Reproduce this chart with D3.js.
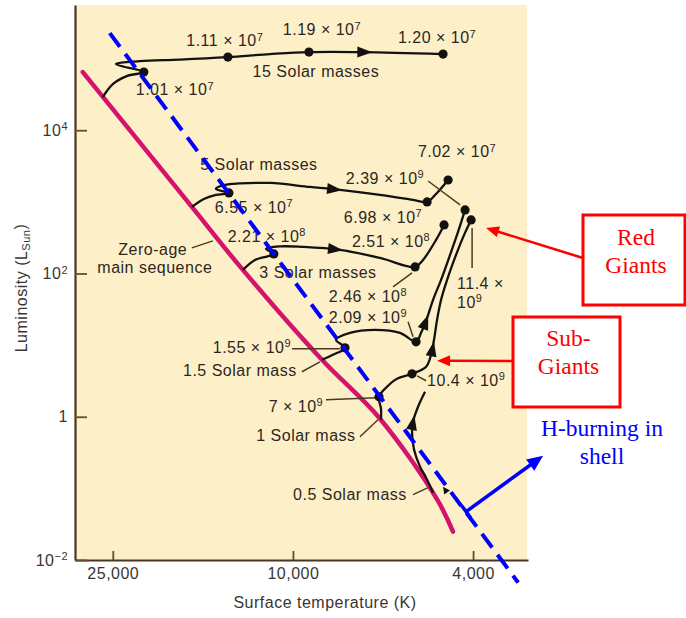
<!DOCTYPE html>
<html>
<head>
<meta charset="utf-8">
<script src="https://cdn.jsdelivr.net/npm/d3@7"></script>
<style>
  html, body { margin: 0; padding: 0; background: #ffffff; }
  svg { display: block; }
</style>
</head>
<body>
<svg id="chart" width="686" height="618"></svg>
<script>
// ---------- axis ticks ----------
const xTicks = [25000, 10000, 4000];
const yTicks = [1e-2, 1, 1e2, 1e4];
const yTickBase = ["10", "1", "10", "10"];
const yTickExp = ["\u22122", "", "2", "4"];

// ---------- zero-age main sequence (T in K, L in solar units) ----------
const zamsT = [29120, 16720, 12900, 8628, 6422, 4800, 4430];
const zamsL = [64900, 849, 112.2, 6.24, 0.938, 0.0696, 0.0249];

// ---------- post-main-sequence tracks ----------
const track15T = [26310, 25000, 23280, 21350, 24620, 21790, 17770, 13920, 11240, 9218, 7001, 4660];
const track15L = [29040, 44060, 57020, 64860, 83750, 92260, 96830, 104900, 115600, 123300, 123300, 115600];
const track15Dots = [3, 7, 9, 11];

const track5T = [16720, 15730, 14800, 13850, 14800, 14140, 13100, 11240, 9171, 7873, 6422, 5428, 5054, 4829, 4542];
const track5L = [849, 1097, 1247, 1331, 1514, 1721, 1806, 1835, 1614, 1466, 1247, 1063, 997, 1288, 2020];
const track5Dots = [3, 12, 14];

const track3T = [12900, 12130, 11020, 11470, 10680, 9504, 7873, 6422, 5373, 5159, 4829, 4636];
const track3L = [112.2, 154.7, 187.6, 220.3, 238.8, 234.9, 213.4, 165.1, 123.6, 154.7, 294.1, 476.3];
const track3Dots = [2, 8, 11];

const track15sT = [8628, 8157, 7674, 8034, 7482, 6587, 5800, 5346, 5212, 5054, 4903, 4707, 4497, 4318, 4166];
const track15sL = [6.24, 7.32, 9.17, 11.86, 14.84, 16.35, 14.84, 11.12, 14.84, 24.03, 42.85, 81.43, 181.7, 380.2, 770.9];
const track15sDots = [2, 7, 14];

const track1T = [6390, 6390, 6455, 6197, 5890, 5456, 5080, 4953, 4879, 4804, 4707, 4565, 4362, 4187, 4041];
const track1L = [0.908, 1.293, 1.901, 2.621, 3.388, 3.979, 4.983, 7.323, 11.86, 22.53, 42.85, 81.43, 181.7, 345.5, 559.3];
const track1Dots = [2, 5, 14];

const track05T = [4903, 5080, 5239, 5400, 5456, 5428, 5292, 5107];
const track05L = [0.0871, 0.141, 0.2007, 0.3465, 0.598, 0.852, 1.379, 2.232];
const track05Dots = [];

// direction arrows along each track (15, 5, 3, 1.5, 1, 0.5 solar masses)
const arrowT = [6930, 8094, 8054, 5080, 4928, 5428];
const arrowL = [123300, 1489, 206.7, 21.13, 8.88, 0.825];

// ---------- age labels (years): text, exponent, T, L, anchor ----------
const ageLabels = [
  ["1.01 \u00d7 10", "7", 18230, 30970, "middle"],
  ["1.11 \u00d7 10", "7", 14140, 149400, "middle"],
  ["1.19 \u00d7 10", "7", 8628, 212700, "middle"],
  ["1.20 \u00d7 10", "7", 4804, 164500, "middle"],
  ["6.55 \u00d7 10", "7", 12190, 700, "middle"],
  ["2.39 \u00d7 10", "9", 6260, 1777, "middle"],
  ["7.02 \u00d7 10", "7", 4340, 4227, "middle"],
  ["6.98 \u00d7 10", "7", 6324, 507.9, "middle"],
  ["2.21 \u00d7 10", "8", 11420, 275.9, "middle"],
  ["2.51 \u00d7 10", "8", 6071, 234.9, "middle"],
  ["2.46 \u00d7 10", "8", 6826, 40.17, "middle"],
  ["2.09 \u00d7 10", "9", 6826, 20.47, "middle"],
  ["1.55 \u00d7 10", "9", 12320, 7.808, "middle"],
  ["7 \u00d7 10", "9", 9849, 1.174, "middle"],
  ["10.4 \u00d7 10", "9", 5054, 2.706, "start"],
  ["11.4 \u00d7", "", 4340, 60.97, "start"],
  ["10", "9", 4340, 33.13, "start"]
];

// ---------- mass / sequence labels: text, T, L ----------
const massLabels = [
  ["15 Solar masses", 8896, 55210],
  ["5 Solar masses", 11890, 2786],
  ["3 Solar masses", 8806, 86.8],
  ["1.5 Solar mass", 13100, 3.731],
  ["1 Solar mass", 9361, 0.4626],
  ["0.5 Solar mass", 7482, 0.0696],
  ["Zero-age", 20400, 181.7],
  ["main sequence", 20190, 101.9]
];

// ---------- leader lines: T1, L1, T2, L2 ----------
const leaders = [
  [5029, 1956, 4274, 905.3],
  [6009, 65.04, 5456, 101.9],
  [5568, 21.13, 5428, 13.05],
  [10050, 8.88, 7873, 8.88],
  [9552, 4.243, 8716, 5.848],
  [8454, 1.726, 6553, 1.841],
  [7111, 0.5261, 6488, 0.908],
  [5318, 3.731, 5080, 3.178],
  [4020, 432.5, 4020, 119.7],
  [5428, 0.0817, 5029, 0.1023],
  [16720, 227.5, 15030, 284.9]
];

// ---------- H-burning-in-shell boundary ----------
const shellLineT = [25390, 3180];
const shellLineL = [227000, 0.00484];
const shellArrowT = [4145, 2801];
const shellArrowL = [0.0473, 0.2858];

// ---------- callout arrow tips ----------
const redGiantTip = [3745, 432.5];
const subGiantTip = [4804, 6.04];

// ================= drawing =================
const svg = d3.select("#chart");
const plot = { left: 75, right: 528, top: 5, bottom: 560 };

const x = d3.scaleLog().domain([30300, 3025]).range([plot.left, plot.right]);
const y = d3.scaleLog().domain([0.01, 5.6e5]).range([plot.bottom, plot.top]);

const SANS = "'Liberation Sans', Arial, Helvetica, sans-serif";
const SERIF = "'Liberation Serif', 'Times New Roman', serif";
const INK = "#2e261c";

// panel background
svg.append("rect")
  .attr("x", plot.left).attr("y", plot.top)
  .attr("width", plot.right - plot.left - 1).attr("height", plot.bottom - plot.top)
  .attr("fill", "#fdf0c9");

// axes
const xAxis = d3.axisBottom(x).tickValues(xTicks).tickFormat(d3.format(","))
  .tickSizeInner(-9).tickSizeOuter(0).tickPadding(8);
const gx = svg.append("g").attr("transform", `translate(0,${plot.bottom})`).call(xAxis);

const yAxis = d3.axisLeft(y).tickValues(yTicks).tickFormat(() => "")
  .tickSizeInner(-12).tickSizeOuter(0).tickPadding(7);
const gy = svg.append("g").attr("transform", `translate(${plot.left},0)`).call(yAxis);

[gx, gy].forEach(g => {
  g.select(".domain").attr("stroke", "#4a3522").attr("stroke-width", 2.2);
  g.selectAll(".tick line").attr("stroke", "#6b4a2a").attr("stroke-width", 1.8);
  g.selectAll(".tick text")
    .attr("fill", "#3a3632")
    .style("font-family", SANS).style("font-size", "16px").style("letter-spacing", "0.5px");
});

gy.selectAll(".tick text").each(function (d, i) {
  const t = d3.select(this);
  t.text(null);
  t.append("tspan").text(yTickBase[i]);
  if (yTickExp[i]) t.append("tspan").attr("dy", "-0.5em").style("font-size", "11px").text(yTickExp[i]);
});

// axis titles
svg.append("text")
  .attr("x", 325).attr("y", 608).attr("text-anchor", "middle")
  .attr("fill", "#3a3632")
  .style("font-family", SANS).style("font-size", "16px").style("letter-spacing", "0.5px")
  .text("Surface temperature (K)");

const yTitle = svg.append("text")
  .attr("transform", "translate(27,288) rotate(-90)")
  .attr("text-anchor", "middle").attr("fill", "#3a3632")
  .style("font-family", SANS).style("font-size", "16px").style("letter-spacing", "0.5px");
yTitle.append("tspan").text("Luminosity (L");
yTitle.append("tspan").attr("dy", "0.3em").style("font-size", "11px").text("Sun");
yTitle.append("tspan").attr("dy", "-0.3em").text(")");

// curve generator through (T, L) pairs
const curve = d3.line()
  .x(d => x(d[0])).y(d => y(d[1]))
  .curve(d3.curveCatmullRom.alpha(0.5));
const zip = (a, b) => a.map((v, i) => [v, b[i]]);

// zero-age main sequence
svg.append("path")
  .attr("d", curve(zip(zamsT, zamsL)))
  .attr("fill", "none").attr("stroke", "#d4146c")
  .attr("stroke-width", 4.5).attr("stroke-linecap", "round");

// tracks
const tracks = [
  { T: track15T, L: track15L, dots: track15Dots },
  { T: track5T, L: track5L, dots: track5Dots },
  { T: track3T, L: track3L, dots: track3Dots },
  { T: track15sT, L: track15sL, dots: track15sDots },
  { T: track1T, L: track1L, dots: track1Dots },
  { T: track05T, L: track05L, dots: track05Dots }
];

const gTracks = svg.append("g");
const trackPaths = tracks.map(tr =>
  gTracks.append("path")
    .attr("d", curve(zip(tr.T, tr.L)))
    .attr("fill", "none").attr("stroke", "#141210")
    .attr("stroke-width", 2.3).attr("stroke-linejoin", "round")
    .node()
);

// leader lines
svg.append("g").selectAll("line").data(leaders).join("line")
  .attr("x1", d => x(d[0])).attr("y1", d => y(d[1]))
  .attr("x2", d => x(d[2])).attr("y2", d => y(d[3]))
  .attr("stroke", "#4b3b22").attr("stroke-width", 1.5);

// age dots
const gDots = svg.append("g");
tracks.forEach(tr => {
  tr.dots.forEach(i => {
    gDots.append("circle")
      .attr("cx", x(tr.T[i])).attr("cy", y(tr.L[i])).attr("r", 4.6)
      .attr("fill", "#141210");
  });
});

// direction arrowheads placed on the nearest point of each track
function pointOnPath(node, px, py) {
  const total = node.getTotalLength();
  let best = 0, bestD = Infinity;
  for (let s = 0; s <= total; s += 0.5) {
    const p = node.getPointAtLength(s);
    const d = (p.x - px) ** 2 + (p.y - py) ** 2;
    if (d < bestD) { bestD = d; best = s; }
  }
  const a = node.getPointAtLength(Math.max(0, best - 3));
  const b = node.getPointAtLength(Math.min(total, best + 3));
  const c = node.getPointAtLength(best);
  return { x: c.x, y: c.y, ang: Math.atan2(b.y - a.y, b.x - a.x) * 180 / Math.PI };
}
const headPath = (len, hw) => `M${len / 2},0L${-len / 2},${-hw}L${-len / 2},${hw}Z`;

trackPaths.forEach((node, i) => {
  const p = pointOnPath(node, x(arrowT[i]), y(arrowL[i]));
  svg.append("path")
    .attr("d", headPath(15, 5.5))
    .attr("transform", `translate(${p.x},${p.y}) rotate(${p.ang})`)
    .attr("fill", "#141210");
});
// small marker at the foot of the 0.5 solar-mass track
svg.append("path")
  .attr("d", headPath(7, 3.5))
  .attr("transform", `translate(${x(4612)},${y(0.0959)}) rotate(-125)`)
  .attr("fill", "#141210");

// labels
const gLabels = svg.append("g")
  .attr("fill", INK)
  .style("font-family", SANS).style("font-size", "16px").style("letter-spacing", "0.5px");

ageLabels.forEach(([txt, sup, T, L, anchor]) => {
  const t = gLabels.append("text").attr("x", x(T)).attr("y", y(L)).attr("text-anchor", anchor);
  t.append("tspan").text(txt);
  if (sup) t.append("tspan").attr("dy", "-0.5em").style("font-size", "11px").text(sup);
});
massLabels.forEach(([txt, T, L]) => {
  gLabels.append("text").attr("x", x(T)).attr("y", y(L)).attr("text-anchor", "middle").text(txt);
});

// H-burning shell boundary (dashed)
svg.append("line")
  .attr("x1", x(shellLineT[0])).attr("y1", y(shellLineL[0]))
  .attr("x2", x(shellLineT[1])).attr("y2", y(shellLineL[1]))
  .attr("stroke", "#0000ff").attr("stroke-width", 4)
  .attr("stroke-dasharray", "17,9");

// straight arrow with a filled head
function arrow(x1, y1, x2, y2, color, width, len, hw) {
  const ang = Math.atan2(y2 - y1, x2 - x1);
  const bx = x2 - Math.cos(ang) * len * 0.8, by = y2 - Math.sin(ang) * len * 0.8;
  svg.append("line").attr("x1", x1).attr("y1", y1).attr("x2", bx).attr("y2", by)
    .attr("stroke", color).attr("stroke-width", width);
  svg.append("path").attr("d", headPath(len, hw))
    .attr("transform", `translate(${x2 - Math.cos(ang) * len / 2},${y2 - Math.sin(ang) * len / 2}) rotate(${ang * 180 / Math.PI})`)
    .attr("fill", color);
  return ang;
}

// shell callout arrow with a bar at its foot
{
  const x1 = x(shellArrowT[0]), y1 = y(shellArrowL[0]);
  const x2 = x(shellArrowT[1]), y2 = y(shellArrowL[1]);
  const ang = arrow(x1, y1, x2, y2, "#0000ff", 3.5, 16, 7);
  const px = -Math.sin(ang) * 8, py = Math.cos(ang) * 8;
  svg.append("line")
    .attr("x1", x1 - px).attr("y1", y1 - py).attr("x2", x1 + px).attr("y2", y1 + py)
    .attr("stroke", "#0000ff").attr("stroke-width", 3.5);
}

// callout boxes
const callouts = [
  { box: [583, 215, 102, 90], tailY: 258, tip: redGiantTip, lines: ["Red", "Giants"], base: [245, 273] },
  { box: [513, 317, 107, 90], tailY: 361, tip: subGiantTip, lines: ["Sub-", "Giants"], base: [346, 374] }
];
callouts.forEach(c => {
  const [bx, by, bw, bh] = c.box;
  arrow(bx, c.tailY, x(c.tip[0]), y(c.tip[1]), "#ff0000", 2.6, 13, 5.5);
  svg.append("rect").attr("x", bx).attr("y", by).attr("width", bw).attr("height", bh)
    .attr("fill", "#ffffff").attr("stroke", "#ff0000").attr("stroke-width", 3);
  c.lines.forEach((ln, i) => {
    svg.append("text").attr("x", bx + bw / 2 + 2).attr("y", c.base[i])
      .attr("text-anchor", "middle").attr("fill", "#ff0000")
      .style("font-family", SERIF).style("font-size", "23.5px").text(ln);
  });
});

["H-burning in", "shell"].forEach((ln, i) => {
  svg.append("text").attr("x", 602).attr("y", [436, 464][i])
    .attr("text-anchor", "middle").attr("fill", "#0000ff")
    .style("font-family", SERIF).style("font-size", "23.5px").text(ln);
});
</script>
</body>
</html>
